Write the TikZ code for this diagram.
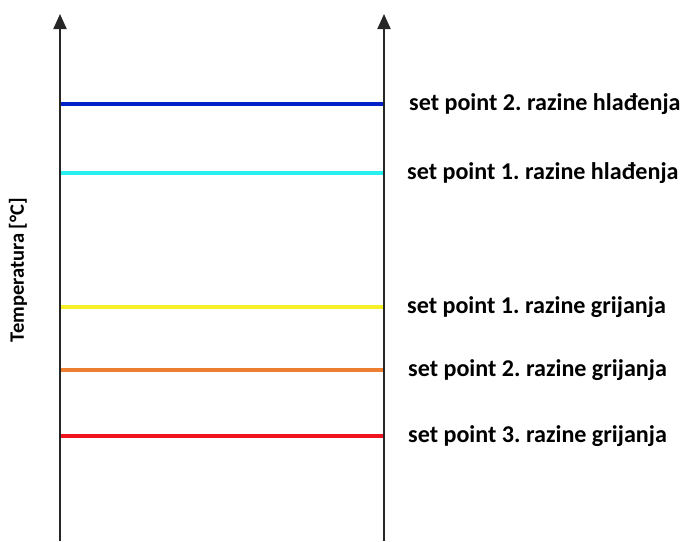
\documentclass[tikz,border=0pt]{standalone}
\usepackage{fontspec}
\setmainfont{Carlito}
\usetikzlibrary{arrows.meta}
\definecolor{spblue}{RGB}{0,32,200}
\definecolor{spcyan}{RGB}{40,240,240}
\definecolor{spyellow}{RGB}{245,240,40}
\definecolor{sporange}{RGB}{237,125,49}
\definecolor{spred}{RGB}{240,20,30}
\frenchspacing
\begin{document}
\begin{tikzpicture}[x=1pt,y=-1pt,
  axisline/.style={draw=black!85,line width=2pt,-{Triangle[length=15pt,width=13pt]}},
  spline/.style={line width=4.5pt},
  splabel/.style={anchor=base west,inner sep=0pt,font=\fontsize{24.1}{28}\selectfont\bfseries},
  ylabel/.style={rotate=90,inner sep=0pt,font=\fontsize{20.5}{24}\selectfont\bfseries}]
\useasboundingbox (0,0) rectangle (684,541);
\coordinate (lb) at (60,541);
\coordinate (lt) at (60,14);
\coordinate (rb) at (384,541);
\coordinate (rt) at (384,14);
\draw[axisline] (lb) -- (lt);
\draw[axisline] (rb) -- (rt);
\foreach \n/\y/\c in {b/104/spblue,c/173/spcyan,y/307/spyellow,o/370/sporange,r/436/spred}{
  \coordinate (\n1) at (61,\y);
  \coordinate (\n2) at (383,\y);
  \draw[spline,\c] (\n1) -- (\n2);
}
\node[splabel] (tb) at (409,110) {set point 2. razine hlađenja};
\node[splabel] (tc) at (407,179) {set point 1. razine hlađenja};
\node[splabel] (ty) at (407,313) {set point 1. razine grijanja};
\node[splabel] (to) at (408,376) {set point 2. razine grijanja};
\node[splabel] (tr) at (408,442) {set point 3. razine grijanja};
\node[ylabel] (yl) at (18,270) {Temperatura [°C]};
\end{tikzpicture}
\end{document}
